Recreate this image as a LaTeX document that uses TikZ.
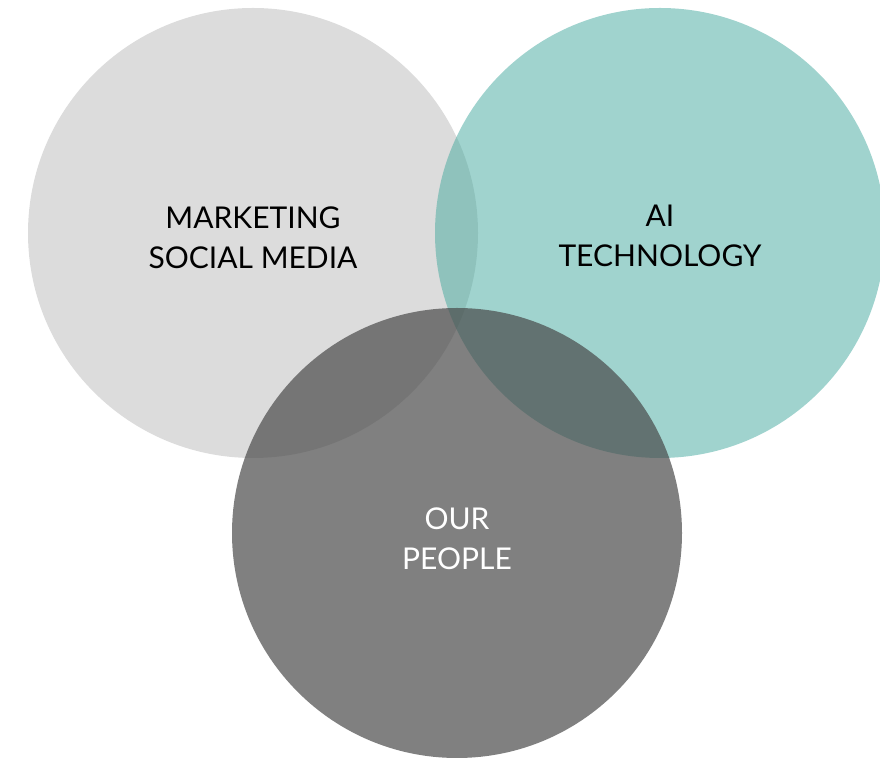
\documentclass[tikz,border=0pt]{standalone}
\usepackage{fontspec}
\setmainfont{Lato}
\usepackage{tikz}
\definecolor{lightgray}{RGB}{220,220,220}
\definecolor{seagreen}{RGB}{69,169,159}
\definecolor{darkgray}{RGB}{71,71,71}

\begin{document}
\begin{tikzpicture}[x=1pt, y=1pt,
	area/.style={circle, minimum size=450pt, inner sep=0pt},
	marketing/.style={area, fill=lightgray},
	tech/.style={area, fill=seagreen, fill opacity=0.51},
	people/.style={area, fill=darkgray, fill opacity=0.69},
	caption/.style={align=center, font=\fontsize{30}{40}\selectfont},
	node distance=407pt]
	\useasboundingbox (0,0) rectangle (880,759);
	\node[marketing] (MKT) at (253,526) {};
	\node[tech, right of=MKT] (AI) {};
	\node[people] (P) at (457,226) {};
	% texts sit a little below the centres
	\node[caption, text=black] (MKTtext) at ([yshift=-5pt]MKT) {MARKETING\\SOCIAL MEDIA};
	\node[caption, text=black] (AItext) at ([yshift=-3pt]AI) {AI\\TECHNOLOGY};
	\node[caption, text=white] (Ptext) at ([yshift=-6pt]P) {OUR\\PEOPLE};
\end{tikzpicture}
\end{document}
